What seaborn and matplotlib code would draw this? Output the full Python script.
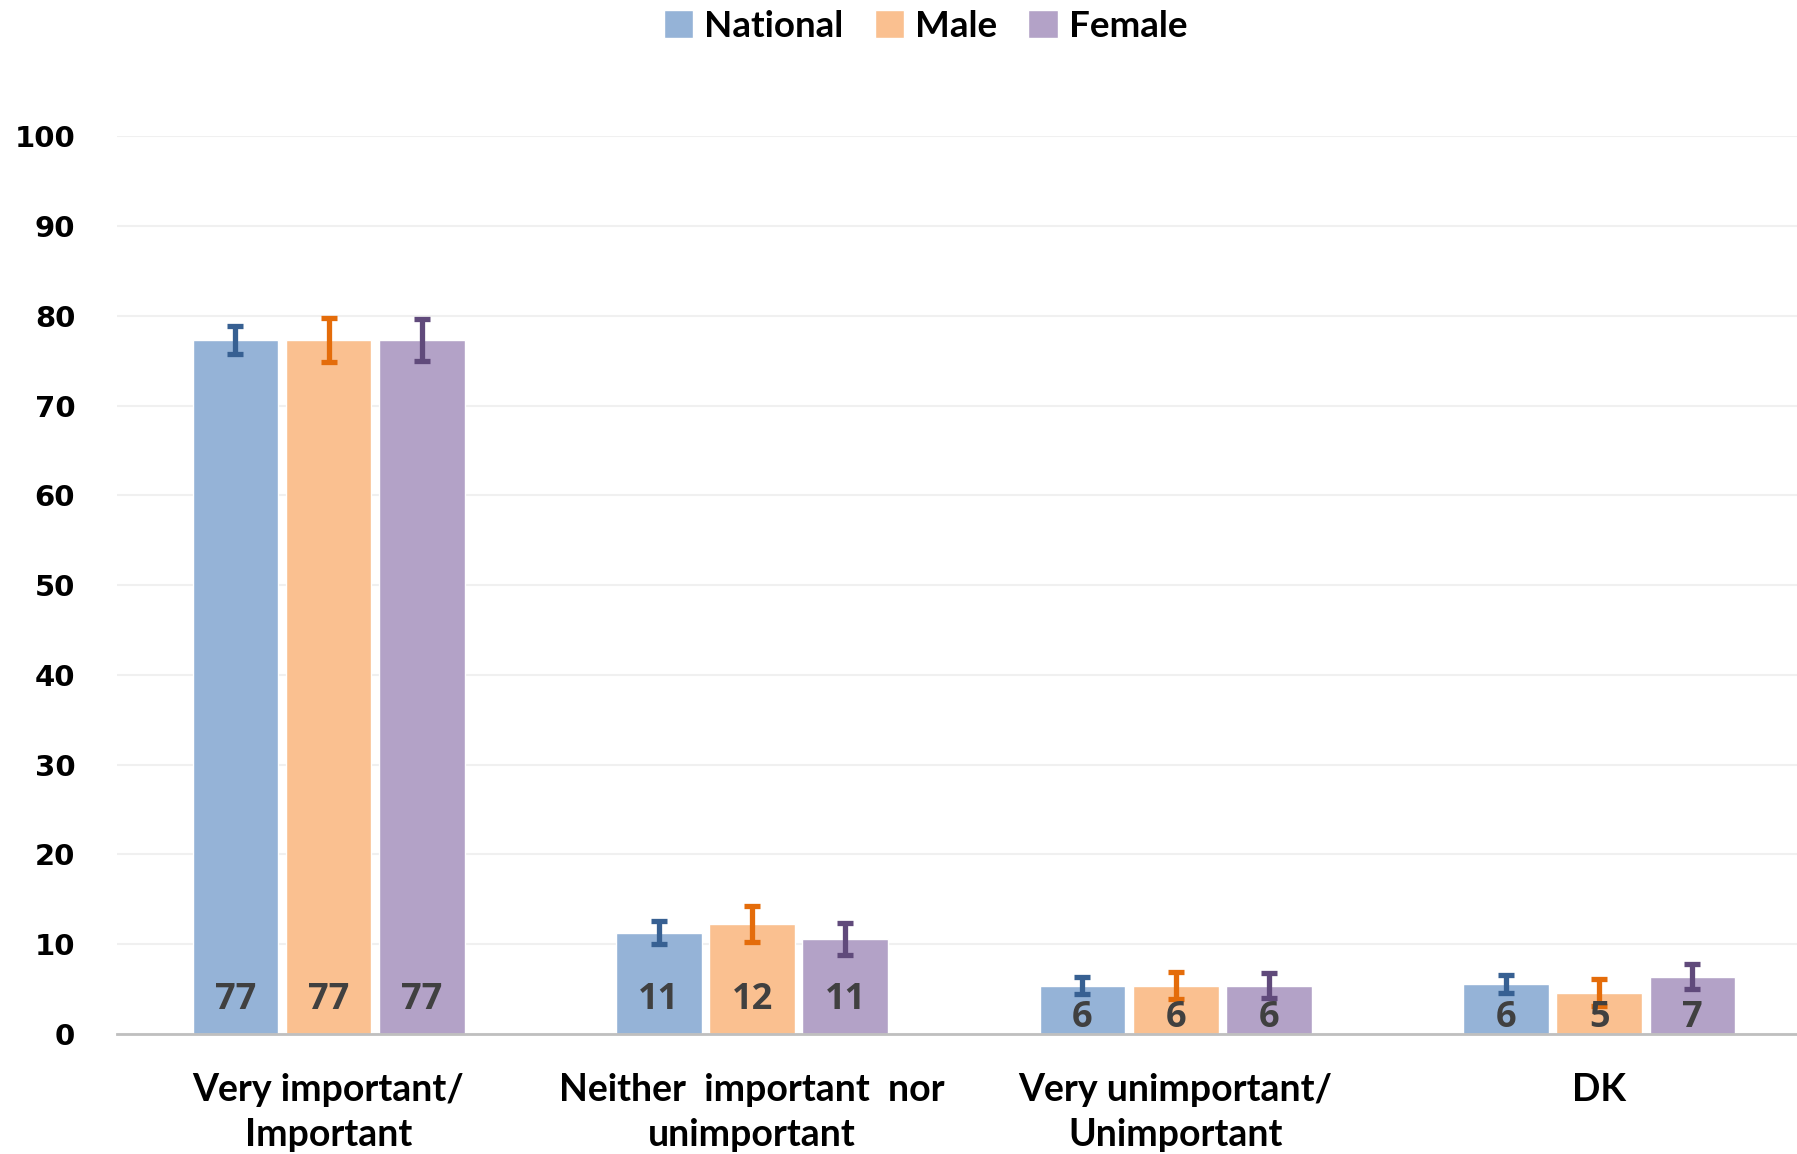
"""Importance rating by gender, grouped bars with error bars."""

import numpy as np
import pandas as pd
import seaborn as sns
import matplotlib.pyplot as plt

categories = ['Very important/\nImportant', 'Neither  important  nor\nunimportant',
              'Very unimportant/\nUnimportant', 'DK']
groups = ['National', 'Male', 'Female']
national = [77.3, 11.3, 5.4, 5.6]
male = [77.3, 12.3, 5.4, 4.6]
female = [77.3, 10.6, 5.4, 6.4]
national_err = [1.6, 1.3, 0.95, 1.0]
male_err = [2.5, 2.0, 1.5, 1.5]
female_err = [2.3, 1.8, 1.35, 1.35]
labels = {'National': ['77', '11', '6', '6'],
          'Male': ['77', '12', '6', '5'],
          'Female': ['77', '11', '6', '7']}

bar_colors = ['#95B3D7', '#FAC090', '#B3A2C7']
err_colors = ['#376092', '#E46C0A', '#604A7B']

df = pd.DataFrame({
    'category': categories * 3,
    'group': [g for g in groups for _ in categories],
    'value': national + male + female,
})
errs = {'National': national_err, 'Male': male_err, 'Female': female_err}

sns.set_style('white')
plt.rcParams['font.family'] = ['DejaVu Sans']
narrow = ['Lato', 'DejaVu Sans']

fig = plt.figure(figsize=(17.97, 11.54), dpi=100)
ax = fig.add_axes([0.065, 0.104, 0.935, 0.778])

sns.barplot(data=df, x='category', y='value', hue='group', order=categories,
            hue_order=groups, palette=bar_colors, width=0.66, gap=0.08,
            errorbar=None, saturation=1, ax=ax, legend=True)

# error bars + value labels on each bar
for i, (g, cont) in enumerate(zip(groups, ax.containers)):
    xs = [b.get_x() + b.get_width() / 2 for b in cont]
    vals = [b.get_height() for b in cont]
    ax.errorbar(xs, vals, yerr=errs[g], fmt='none', ecolor=err_colors[i],
                elinewidth=3.8, capsize=6, capthick=3.8, zorder=5)
    for x, v, lab in zip(xs, vals, labels[g]):
        y = 3.8 if v > 9 else 1.8
        ax.text(x, y, lab, ha='center', va='center', fontsize=26,
                fontweight='bold', color='#404040', zorder=6,
                family=['Open Sans', 'DejaVu Sans'])

ax.set_ylim(0, 100)
ax.set_xlim(-0.5, 3.467)
ax.set_yticks(range(0, 101, 10))
ax.set_xlabel('')
ax.set_ylabel('')
ax.yaxis.grid(True, color='#F0F0F0', linewidth=1.5)
ax.set_axisbelow(True)
for side in ['top', 'right', 'left']:
    ax.spines[side].set_visible(False)
ax.spines['bottom'].set_color('#BFBFBF')
ax.spines['bottom'].set_linewidth(2)
ax.tick_params(axis='y', length=0, pad=30, labelsize=21, labelcolor='black')
ax.tick_params(axis='x', length=0, pad=28, labelcolor='black')
for t in ax.get_yticklabels():
    t.set_fontweight('bold')
for t in ax.get_xticklabels():
    t.set_fontweight('bold')
    t.set_fontsize(27)
    t.set_family(narrow)
    t.set_linespacing(1.4)

handles, leg_labels = ax.get_legend_handles_labels()
ax.get_legend().remove()
fig.legend(handles, leg_labels, loc='center', bbox_to_anchor=(0.515, 0.977),
           ncol=3, frameon=False, handlelength=0.8, handleheight=0.8,
           handletextpad=0.3, columnspacing=0.85, labelcolor='black',
           prop={'family': narrow, 'weight': 'bold', 'size': 26.5})

fig.savefig('out.png', dpi=100)
